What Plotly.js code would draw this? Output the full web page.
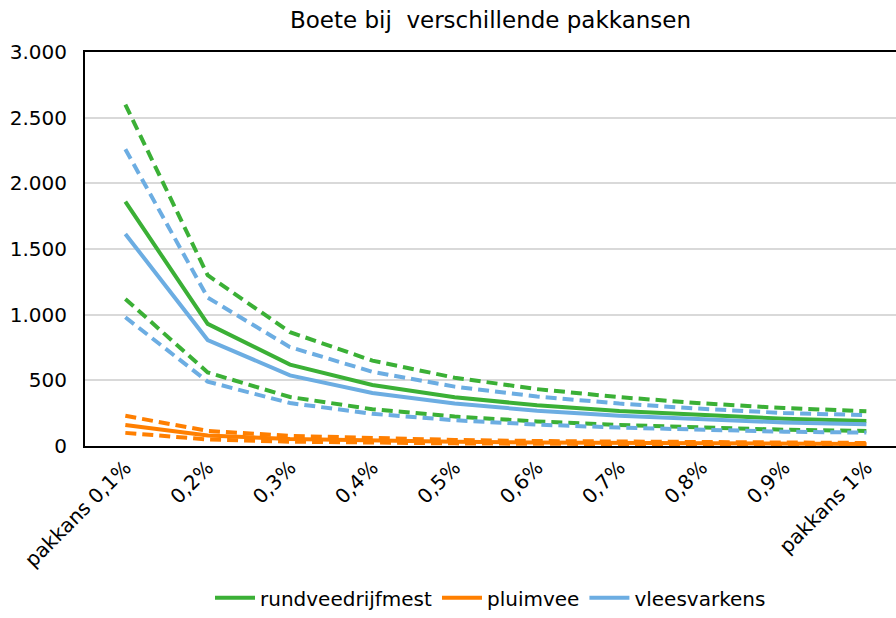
<!DOCTYPE html>
<html>
<head>
<meta charset="utf-8">
<script src="https://cdn.plot.ly/plotly-3.0.1.min.js"></script>
<style>html,body{margin:0;padding:0;background:#fff;}#chart{width:896px;height:618px;}</style>
</head>
<body>
<div id="chart"></div>
<script>
const categories = ["pakkans 0,1%","0,2%","0,3%","0,4%","0,5%","0,6%","0,7%","0,8%","0,9%","pakkans 1%"];

const rundveeMid  = [1860, 930, 620, 465, 372, 310, 266, 233, 207, 190];
const rundveeHigh = [2600, 1300, 867, 650, 520, 433, 372, 325, 289, 265];
const rundveeLow  = [1120, 560, 373, 280, 224, 187, 160, 140, 124, 115];

const pluimveeMid  = [160, 80, 53, 40, 32, 27, 23, 20, 18, 16];
const pluimveeHigh = [230, 115, 77, 58, 46, 38, 33, 29, 26, 23];
const pluimveeLow  = [100, 50, 33, 25, 20, 17, 14, 13, 11, 10];

const varkensMid  = [1615, 807, 538, 404, 323, 269, 231, 202, 179, 165];
const varkensHigh = [2260, 1130, 753, 565, 452, 377, 323, 283, 251, 235];
const varkensLow  = [980, 490, 327, 245, 196, 163, 140, 123, 109, 102];

const yTickVals = [0, 500, 1000, 1500, 2000, 2500, 3000];
const yTickText = ["0", "500", "1.000", "1.500", "2.000", "2.500", "3.000"];

const GREEN = "#3BB036", ORANGE = "#FF7F00", BLUE = "#6CADE2";
const DASH = "11px,6px";

function tr(y, color, dash, name, show) {
  return {
    x: categories, y: y, type: "scatter", mode: "lines",
    name: name, showlegend: show, hoverinfo: "skip",
    line: {color: color, width: 4, dash: dash}
  };
}

const data = [
  tr(rundveeHigh, GREEN, DASH, "rundveedrijfmest hoog", false),
  tr(rundveeLow, GREEN, DASH, "rundveedrijfmest laag", false),
  tr(varkensHigh, BLUE, DASH, "vleesvarkens hoog", false),
  tr(varkensLow, BLUE, DASH, "vleesvarkens laag", false),
  tr(pluimveeHigh, ORANGE, DASH, "pluimvee hoog", false),
  tr(pluimveeLow, ORANGE, DASH, "pluimvee laag", false),
  tr(rundveeMid, GREEN, "solid", "rundveedrijfmest", true),
  tr(pluimveeMid, ORANGE, "solid", "pluimvee", true),
  tr(varkensMid, BLUE, "solid", "vleesvarkens", true)
];

const layout = {
  width: 896, height: 618,
  paper_bgcolor: "#ffffff", plot_bgcolor: "#ffffff",
  font: {family: "DejaVu Sans, Verdana, sans-serif", size: 20, color: "#000"},
  margin: {l: 85, r: 0, t: 52, b: 172},
  title: {text: "Boete bij  verschillende pakkansen", x: 0.5, xref: "paper", y: 0.967, yanchor: "middle",
          font: {family: "DejaVu Sans, Verdana, sans-serif", size: 23, color: "#000"}},
  xaxis: {
    type: "category", range: [-0.49, 9.36],
    showline: true, linecolor: "#000", linewidth: 2, mirror: true,
    showgrid: false, zeroline: false, ticks: "",
    tickangle: -45, tickfont: {size: 20}
  },
  yaxis: {
    range: [0, 3000], tickvals: yTickVals, ticktext: yTickText,
    showline: true, linecolor: "#000", linewidth: 2,
    showgrid: true, gridcolor: "#d9d9d9", gridwidth: 2,
    zeroline: false, ticks: "", tickfont: {size: 20}, ticklabelstandoff: 12
  },
  showlegend: true,
  legend: {orientation: "h", x: 0.5, xanchor: "center", y: -0.385, yanchor: "middle",
           font: {size: 20}, traceorder: "normal", itemwidth: 40}
};

Plotly.newPlot("chart", data, layout, {displayModeBar: false, staticPlot: true});
</script>
</body>
</html>
